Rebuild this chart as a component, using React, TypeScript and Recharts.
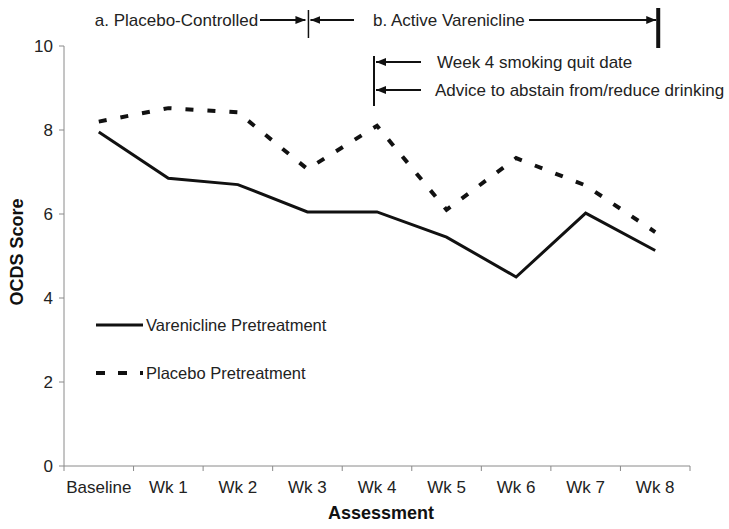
import { Legend, Line, LineChart, XAxis, YAxis } from "recharts";

const categories = ["Baseline", "Wk 1", "Wk 2", "Wk 3", "Wk 4", "Wk 5", "Wk 6", "Wk 7", "Wk 8"];
const vareniclineScores = [7.95, 6.85, 6.7, 6.05, 6.05, 5.45, 4.5, 6.02, 5.13];
const placeboScores = [8.2, 8.52, 8.42, 7.07, 8.1, 6.1, 7.33, 6.68, 5.57];
const yTicks = [0, 2, 4, 6, 8, 10];

const data = categories.map((label, idx) => ({
  idx,
  label,
  varenicline: vareniclineScores[idx],
  placebo: placeboScores[idx],
}));

// x ticks: band edges (tick marks) and band centres (labels)
const xTicks: number[] = [];
for (let i = 0; i <= categories.length; i++) {
  xTicks.push(i - 0.5);
  if (i < categories.length) xTicks.push(i);
}

const W = 729;
const H = 529;
const plotLeft = 64;
const plotRight = 690;
const plotTop = 46;
const plotBottom = 466;
const band = (plotRight - plotLeft) / categories.length;
const catX = (i: number) => plotLeft + (i + 0.5) * band;

const font = '"Liberation Sans", Arial, Helvetica, sans-serif';
const axisGray = "#8a8a8a";
const ink = "#111";

function CategoryTick(props: any) {
  const { x, y, payload } = props;
  const v = payload.value;
  if (Number.isInteger(v)) {
    return (
      <text x={x} y={y + 27} textAnchor="middle" fontSize={17} fontFamily={font} fill="#222">
        {categories[v]}
      </text>
    );
  }
  return <line x1={x} x2={x} y1={y} y2={y + 5} stroke={axisGray} strokeWidth={1} />;
}

function LegendContent() {
  const row = (dash: string | undefined, label: string, mb: number) => (
    <div style={{ display: "flex", alignItems: "center", height: 24, marginBottom: mb }}>
      <svg width={50} height={8}>
        <line x1={0} x2={47} y1={4} y2={4} stroke={ink} strokeWidth={dash ? 4 : 3} strokeDasharray={dash} />
      </svg>
      <span style={{ fontFamily: font, fontSize: 16.5, color: "#222" }}>{label}</span>
    </div>
  );
  return (
    <div>
      {row(undefined, "Varenicline Pretreatment", 24)}
      {row("9 13", "Placebo Pretreatment", 0)}
    </div>
  );
}

function Annotations() {
  const topY = 20;
  const x3 = catX(3);
  const x4 = catX(4) - 3;
  const x8 = catX(8) + 3;
  return (
    <svg width={W} height={H} style={{ position: "absolute", left: 0, top: 0, pointerEvents: "none" }}>
      <defs>
        <marker id="arr" markerWidth={10} markerHeight={8} refX={10} refY={4} orient="auto" markerUnits="userSpaceOnUse">
          <path d="M0,0 L10,4 L0,8 z" fill={ink} />
        </marker>
      </defs>
      <g fontFamily={font} fontSize={17} fill="#222">
        <text x={catX(0) - 4} y={topY} dominantBaseline="central">a. Placebo-Controlled</text>
        <line x1={260} x2={x3 - 2} y1={topY} y2={topY} stroke={ink} strokeWidth={2} markerEnd="url(#arr)" />
        <line x1={x3 + 1} x2={x3 + 1} y1={10} y2={38} stroke={ink} strokeWidth={1.5} />
        <line x1={354} x2={x3 + 3} y1={topY} y2={topY} stroke={ink} strokeWidth={2} markerEnd="url(#arr)" />
        <text x={373} y={topY} dominantBaseline="central">b. Active Varenicline</text>
        <line x1={529} x2={x8 - 2} y1={topY} y2={topY} stroke={ink} strokeWidth={2} markerEnd="url(#arr)" />
        <line x1={x8} x2={x8} y1={8} y2={48} stroke={ink} strokeWidth={4} />

        <line x1={x4} x2={x4} y1={56} y2={106} stroke={ink} strokeWidth={2} />
        <line x1={421} x2={x4 + 2} y1={62} y2={62} stroke={ink} strokeWidth={2} markerEnd="url(#arr)" />
        <line x1={421} x2={x4 + 2} y1={90} y2={90} stroke={ink} strokeWidth={2} markerEnd="url(#arr)" />
        <text x={437} y={62} dominantBaseline="central">Week 4 smoking quit date</text>
        <text x={435} y={90} dominantBaseline="central">Advice to abstain from/reduce drinking</text>
      </g>
    </svg>
  );
}

export default function App() {
  return (
    <div style={{ position: "absolute", left: 0, top: 0, width: W, height: H, background: "#fff" }}>
      <LineChart
        width={W}
        height={H}
        data={data}
        margin={{ top: plotTop, right: W - plotRight, bottom: 0, left: 0 }}
      >
        <XAxis
          dataKey="idx"
          type="number"
          domain={[-0.5, categories.length - 0.5]}
          ticks={xTicks}
          interval={0}
          height={H - plotBottom}
          stroke={axisGray}
          tickLine={false}
          tickSize={0}
          tickMargin={0}
          tick={<CategoryTick />}
          label={{
            content: (p: any) => {
              const vb = p.viewBox;
              return (
                <text
                  x={vb.x + vb.width / 2 + 4}
                  y={vb.y + 47}
                  textAnchor="middle"
                  dominantBaseline="central"
                  fontFamily={font}
                  fontSize={18}
                  fontWeight="bold"
                  fill="#111"
                >
                  Assessment
                </text>
              );
            },
          }}
        />
        <YAxis
          domain={[0, 10]}
          ticks={yTicks}
          width={plotLeft}
          stroke={axisGray}
          tickSize={5}
          tickMargin={6}
          tick={{ fontSize: 17, fontFamily: font, fill: "#222" }}
          label={{
            content: (p: any) => {
              const vb = p.viewBox;
              const cx = 17;
              const cy = vb.y + vb.height / 2 - 4;
              return (
                <text
                  x={cx}
                  y={cy}
                  transform={`rotate(-90 ${cx} ${cy})`}
                  textAnchor="middle"
                  dominantBaseline="central"
                  fontFamily={font}
                  fontSize={18}
                  fontWeight="bold"
                  fill="#111"
                >
                  OCDS Score
                </text>
              );
            },
          }}
        />
        <Legend
          layout="vertical"
          align="center"
          verticalAlign="middle"
          content={<LegendContent />}
          wrapperStyle={{ left: 96, top: 313, width: 280 }}
        />
        <Line
          dataKey="varenicline"
          stroke={ink}
          strokeWidth={3}
          dot={false}
          activeDot={false}
          type="linear"
          isAnimationActive={false}
        />
        <Line
          dataKey="placebo"
          stroke={ink}
          strokeWidth={4}
          strokeDasharray="8 14"
          dot={false}
          activeDot={false}
          type="linear"
          isAnimationActive={false}
        />
      </LineChart>
      <Annotations />
    </div>
  );
}
